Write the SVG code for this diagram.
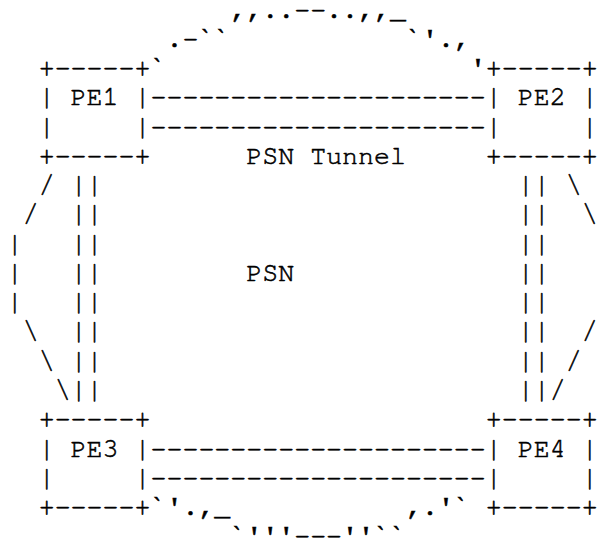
<svg xmlns="http://www.w3.org/2000/svg" width="600" height="538" viewBox="0 0 600 538">
<style>
text{font-family:"Nimbus Mono PS","Nimbus Mono L","FreeMono",Courier,monospace;font-size:26.62px;fill:#000;stroke:#000;stroke-width:0.55px;white-space:pre}
</style>
<rect width="600" height="538" fill="#fff"/>
<g id="connectors" xml:space="preserve">
<g id="top-arc">
<text x="230.34" y="17.5">,,..--..,,_</text>
<text x="166.46" y="46.77">.-``</text>
<text x="406.01" y="46.77">`'.,</text>
<text x="150.49" y="76.04">`</text>
<text x="469.89" y="76.04">'</text>
</g>
<g id="tunnel-top">
<text x="150.49" y="105.31">---------------------</text>
<text x="150.49" y="134.58">---------------------</text>
</g>
<g id="tunnel-bottom">
<text x="150.49" y="456.55">---------------------</text>
<text x="150.49" y="485.82">---------------------</text>
</g>
<g id="left-links">
<text x="70.64" y="193.12">||</text>
<text x="70.64" y="222.39">||</text>
<text x="70.64" y="251.66">||</text>
<text x="70.64" y="280.93">||</text>
<text x="70.64" y="310.2">||</text>
<text x="70.64" y="339.47">||</text>
<text x="70.64" y="368.74">||</text>
<text x="70.64" y="398.01">||</text>
</g>
<g id="right-links">
<text x="517.8" y="193.12">||</text>
<text x="517.8" y="222.39">||</text>
<text x="517.8" y="251.66">||</text>
<text x="517.8" y="280.93">||</text>
<text x="517.8" y="310.2">||</text>
<text x="517.8" y="339.47">||</text>
<text x="517.8" y="368.74">||</text>
<text x="517.8" y="398.01">||</text>
</g>
<g id="left-arc">
<text x="38.7" y="193.12">/</text>
<text x="22.73" y="222.39">/</text>
<text x="6.76" y="251.66">|</text>
<text x="6.76" y="280.93">|</text>
<text x="6.76" y="310.2">|</text>
<text x="22.73" y="339.47">\</text>
<text x="38.7" y="368.74">\</text>
<text x="54.67" y="398.01">\</text>
</g>
<g id="right-arc">
<text x="565.71" y="193.12">\</text>
<text x="581.68" y="222.39">\</text>
<text x="581.68" y="339.47">/</text>
<text x="565.71" y="368.74">/</text>
<text x="549.74" y="398.01">/</text>
</g>
<g id="bottom-arc">
<text x="150.49" y="515.09">`'.,_</text>
<text x="406.01" y="515.09">,.'`</text>
<text x="230.34" y="544.36">`'''---''``</text>
</g>
</g>
<g id="PE1" xml:space="preserve">
<text x="38.7" y="76.04">+-----+</text>
<text x="38.7" y="105.31">| PE1 |</text>
<text x="38.7" y="134.58">|     |</text>
<text x="38.7" y="163.85">+-----+</text>
</g>
<g id="PE2" xml:space="preserve">
<text x="485.86" y="76.04">+-----+</text>
<text x="485.86" y="105.31">| PE2 |</text>
<text x="485.86" y="134.58">|     |</text>
<text x="485.86" y="163.85">+-----+</text>
</g>
<g id="PE3" xml:space="preserve">
<text x="38.7" y="427.28">+-----+</text>
<text x="38.7" y="456.55">| PE3 |</text>
<text x="38.7" y="485.82">|     |</text>
<text x="38.7" y="515.09">+-----+</text>
</g>
<g id="PE4" xml:space="preserve">
<text x="485.86" y="427.28">+-----+</text>
<text x="485.86" y="456.55">| PE4 |</text>
<text x="485.86" y="485.82">|     |</text>
<text x="485.86" y="515.09">+-----+</text>
</g>
<g id="labels">
<text x="246.31" y="163.85">PSN Tunnel</text>
<text x="246.31" y="280.93">PSN</text>
</g>
</svg>
